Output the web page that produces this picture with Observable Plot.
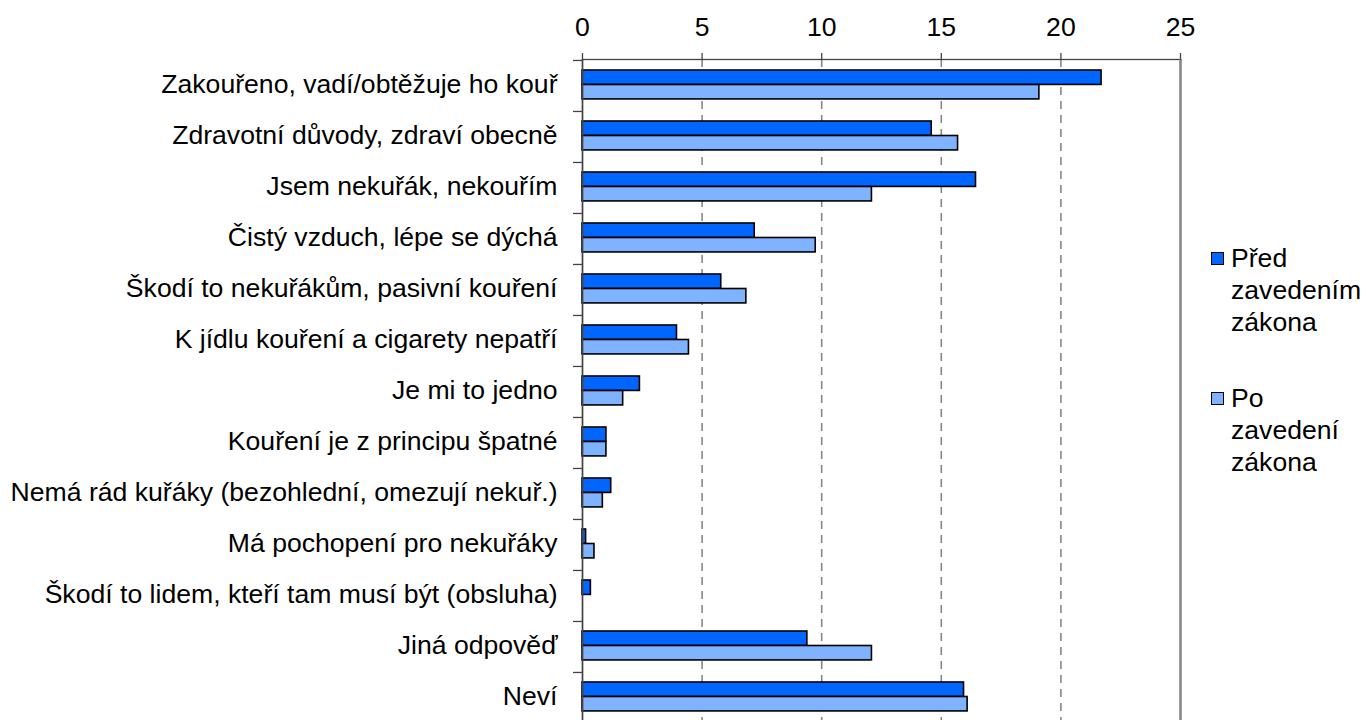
<!DOCTYPE html>
<html>
<head>
<meta charset="utf-8">
<script src="https://cdn.jsdelivr.net/npm/d3@7"></script>
<script src="https://cdn.jsdelivr.net/npm/@observablehq/plot@0.6"></script>
<style>
  body { margin: 0; background: #fff; font-family: "Liberation Sans", Arial, sans-serif; }
  #wrap { position: relative; width: 1365px; height: 720px; overflow: hidden; }
  #chart svg { display: block; }
  .legend { position: absolute; left: 1211px; font-size: 26.6px; line-height: 32px; color: #000; }
  .legend .sw { position: absolute; left: 0; top: 10px; width: 11px; height: 11px; border: 1.5px solid #000; }
  .legend .tx { margin-left: 20px; white-space: nowrap; }
</style>
</head>
<body>
<div id="wrap">
  <div id="chart"></div>
</div>
<script>
const categories = [
  "Zakouřeno, vadí/obtěžuje ho kouř",
  "Zdravotní důvody, zdraví obecně",
  "Jsem nekuřák, nekouřím",
  "Čistý vzduch, lépe se dýchá",
  "Škodí to nekuřákům, pasivní kouření",
  "K jídlu kouření a cigarety nepatří",
  "Je mi to jedno",
  "Kouření je z principu špatné",
  "Nemá rád kuřáky (bezohlední, omezují nekuř.)",
  "Má pochopení pro nekuřáky",
  "Škodí to lidem, kteří tam musí být (obsluha)",
  "Jiná odpověď",
  "Neví"
];
const before = [21.7, 14.6, 16.45, 7.2, 5.8, 3.95, 2.4, 1.0, 1.2, 0.15, 0.35, 9.4, 15.95];
const after  = [19.1, 15.7, 12.1, 9.75, 6.85, 4.45, 1.7, 1.0, 0.85, 0.5, 0, 12.1, 16.1];
const series = ["Před zavedením zákona", "Po zavedení zákona"];
const colors = ["#0066FF", "#80B3FF"];
const xTicks = [0, 5, 10, 15, 20, 25];

const H = 723, MT = 59;
const bw = (H - MT) / categories.length;

const rowsBefore = categories.map((c, i) => ({cat: c, s: series[0], v: before[i]})).filter(d => d.v > 0);
const rowsAfter  = categories.map((c, i) => ({cat: c, s: series[1], v: after[i]})).filter(d => d.v > 0);

const chart = Plot.plot({
  width: 1365,
  height: H,
  marginLeft: 582,
  marginRight: 185,
  marginTop: MT,
  marginBottom: 0,
  style: { fontFamily: "Liberation Sans, Arial, sans-serif", fontSize: "26.6px", color: "#000", background: "#fff", overflow: "visible" },
  x: { domain: [0, 25], axis: null },
  y: { domain: categories, padding: 0, axis: null },
  color: { domain: series, range: colors },
  marks: [
    Plot.ruleX([5, 10, 15, 20], { stroke: "#888", strokeWidth: 1.6, strokeDasharray: "8,6" }),
    Plot.barX(rowsBefore, { x: "v", y: "cat", fill: "s", stroke: "#000", strokeWidth: 1.6, insetTop: 10, insetBottom: bw - 24.5 }),
    Plot.barX(rowsAfter,  { x: "v", y: "cat", fill: "s", stroke: "#000", strokeWidth: 1.6, insetTop: 24.5, insetBottom: bw - 39 }),
    Plot.frame({ stroke: "#444", strokeWidth: 1.3 }),
    Plot.ruleX([25], { stroke: "#888", strokeWidth: 2.5 }),
    Plot.ruleX([0], { stroke: "#444", strokeWidth: 1.5 }),
    Plot.axisX({ ticks: xTicks, anchor: "top", tickSize: 7, tickPadding: 17, fontSize: 26.6, stroke: "#444", strokeWidth: 1.3, label: null }),
    Plot.axisY({ tickSize: 9, dy: -bw / 2, text: null, stroke: "#444", strokeWidth: 1.3, label: null }),
    Plot.axisY({ tickSize: 0, tickPadding: 25, fontSize: 26.6, dy: -2, label: null })
  ]
});
document.getElementById("chart").appendChild(chart);

// legend
const wrap = document.getElementById("wrap");
const legendTops = [242, 382];
series.forEach((name, i) => {
  const div = document.createElement("div");
  div.className = "legend";
  div.style.top = legendTops[i] + "px";
  const sw = document.createElement("div");
  sw.className = "sw";
  sw.style.background = colors[i];
  div.appendChild(sw);
  const tx = document.createElement("div");
  tx.className = "tx";
  tx.innerHTML = name.split(" ").join("<br>");
  div.appendChild(tx);
  wrap.appendChild(div);
});
</script>
</body>
</html>
